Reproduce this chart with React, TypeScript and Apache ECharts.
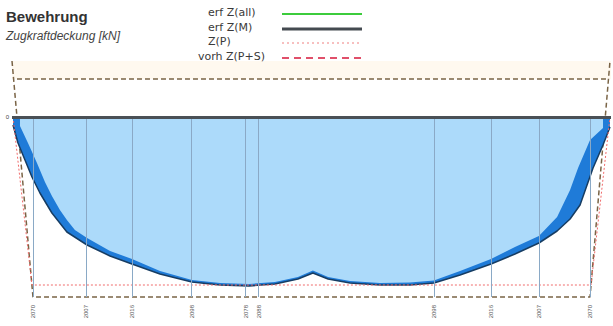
import React, { useEffect, useRef } from "react";
import * as echarts from "echarts";

// positions along the beam [m], force [kN] (tension plotted downward)
const outerCurve: [number, number][] = [
  [0.05, 80], [0.3, 260], [0.65, 430], [1.0, 600], [1.4, 760], [2.0, 960], [2.75, 1150],
  [3.76, 1280], [4.91, 1390], [6.01, 1470], [7.41, 1570], [9.01, 1650], [10.42, 1680],
  [11.87, 1690], [13.17, 1670], [14.32, 1620], [15.07, 1560], [15.83, 1620], [16.93, 1660],
  [18.43, 1680], [19.93, 1680], [21.13, 1660], [22.44, 1580], [23.99, 1470], [25.19, 1370],
  [26.39, 1260], [27.3, 1140], [27.95, 1020], [28.45, 880], [29.1, 510], [29.6, 280], [29.95, 100],
];
const innerCurve: [number, number][] = [
  [0.4, 90], [0.8, 260], [1.25, 460], [1.65, 650], [2.0, 790], [2.4, 930], [2.75, 1030],
  [3.15, 1130], [3.76, 1210], [4.91, 1340], [6.01, 1420], [7.41, 1540], [9.01, 1630],
  [10.42, 1660], [11.87, 1670], [13.17, 1650], [14.32, 1600], [15.07, 1535], [15.83, 1600],
  [16.93, 1640], [18.43, 1660], [19.93, 1655], [21.13, 1635], [22.44, 1540], [23.99, 1420],
  [25.19, 1300], [26.39, 1190], [27.3, 1000], [27.95, 730], [28.35, 510], [28.95, 230], [29.6, 110],
];
const zP: [number, number][] = [[0.05, 0], [1.0, 1680], [29.0, 1680], [29.95, 0]];
const vorhBottom: [number, number][] = [[0.0, -560], [1.05, 1800], [28.95, 1800], [29.95, -560]];
const vorhTop: [number, number][] = [[0.25, -380], [29.85, -380]];
const vorhEndLabels = ["2070", "2070"];

const xLines = [1.05, 3.7, 6.0, 9.0, 11.7, 12.35, 21.15, 24.0, 26.4, 28.95];
const xLineLabels = ["2070", "2007", "2016", "2098", "2078", "2088", "2098", "2016", "2007", "2070"];

const legendNames = ["erf Z(all)", "erf Z(M)", "Z(P)", "vorh Z(P+S)"];

const FONT = "Liberation Sans, Arial, sans-serif";

export default function App() {
  const ref = useRef<HTMLDivElement>(null);
  useEffect(() => {
    if (!ref.current) return;
    const chart = echarts.init(ref.current, undefined, { renderer: "svg" });
    const legendRows = [14, 29, 43, 58];
    const legendTextX = [208, 208, 208, 198];
    const legendStyles = [
      { stroke: "#3ccc3c", lineWidth: 2 },
      { stroke: "#444a50", lineWidth: 3 },
      { stroke: "#f08080", lineWidth: 1.2, lineDash: [2, 3] },
      { stroke: "#e0506a", lineWidth: 2, lineDash: [7, 5] },
    ];
    const graphic: any[] = [];
    legendNames.forEach((n, i) => {
      graphic.push({
        type: "text",
        left: legendTextX[i],
        top: legendRows[i] - 7,
        style: { text: n, fontSize: 11, fontFamily: "DejaVu Sans, sans-serif", fill: "#3a3a3a" },
      });
      graphic.push({
        type: "line",
        shape: { x1: 282, y1: legendRows[i], x2: 362, y2: legendRows[i] },
        style: legendStyles[i],
      });
    });

    const vLineData: any[] = xLines.map((x) => [
      { coord: [x, 0] },
      { coord: [x, 1800] },
    ]);

    chart.setOption({
      animation: false,
      backgroundColor: "#fff",
      title: {
        text: "Bewehrung",
        subtext: "Zugkraftdeckung [kN]",
        left: 6,
        top: 9,
        padding: 0,
        itemGap: 6,
        textStyle: { fontSize: 15, fontWeight: "bold", color: "#333", fontFamily: FONT },
        subtextStyle: { fontSize: 12, fontStyle: "italic", color: "#444", fontFamily: FONT },
      },
      grid: { left: 12, right: 2, top: 57, bottom: 24 },
      xAxis: {
        type: "value",
        min: 0,
        max: 30,
        axisLine: { show: false },
        axisTick: { show: false },
        splitLine: { show: false },
        axisLabel: {
          customValues: xLines,
          formatter: (v: number) => {
            const i = xLines.indexOf(v);
            return i >= 0 ? xLineLabels[i] : "";
          },
          rotate: 90,
          fontSize: 6,
          color: "#555",
          margin: 3,
          fontFamily: FONT,
        },
      },
      yAxis: {
        type: "value",
        inverse: true,
        min: -600,
        max: 1850,
        axisLine: { show: false },
        axisTick: { show: false },
        splitLine: { show: false },
        axisLabel: { customValues: [0], fontSize: 6, color: "#444", margin: 3, fontFamily: FONT },
      },
      graphic,
      series: [
        {
          name: "vorh Z(P+S)",
          type: "line",
          data: vorhBottom.map((p, i) =>
            i === 0 || i === vorhBottom.length - 1
              ? {
                  value: p,
                  label: {
                    show: true,
                    formatter: vorhEndLabels[i === 0 ? 0 : 1],
                    rotate: 90,
                    fontSize: 5,
                    color: "#666",
                    position: i === 0 ? "right" : "left",
                    distance: 2,
                  },
                }
              : p
          ),
          symbol: "none",
          lineStyle: { color: "#7a6446", width: 1.5, type: [5, 3] },
          markArea: {
            silent: true,
            itemStyle: { color: "rgba(255,238,210,0.35)" },
            data: [[{ coord: [0, -560] }, { coord: [30, -380] }]],
          },
          z: 1,
        },
        {
          name: "erf Z(M)",
          type: "line",
          data: outerCurve,
          symbol: "none",
          lineStyle: { color: "#173d63", width: 1.5 },
          areaStyle: { color: "#1f7bd8", opacity: 1 },
          z: 2,
        },
        {
          name: "erf Z(all)",
          type: "line",
          data: innerCurve,
          symbol: "none",
          lineStyle: { color: "#3ccc3c", width: 0, opacity: 0 },
          areaStyle: { color: "#acdafa", opacity: 1 },
          markLine: {
            silent: true,
            symbol: ["none", "none"],
            label: { show: false },
            lineStyle: { color: "#8aa9c6", width: 1, type: "solid" },
            data: [
              ...vLineData,
              [
                { coord: [0, 0], lineStyle: { color: "#4a5056", width: 3, type: "solid" } },
                { coord: [30, 0] },
              ],
            ],
          },
          z: 3,
        },
        {
          name: "Z(P)",
          type: "line",
          data: zP,
          symbol: "none",
          lineStyle: { color: "#f06a6a", width: 1, type: [2, 2] },
          z: 4,
        },
        {
          name: "vorh Z(P+S) oben",
          type: "line",
          data: vorhTop,
          symbol: "none",
          lineStyle: { color: "#7a6446", width: 1.5, type: [5, 3] },
          z: 4,
        },
      ],
    });
    return () => chart.dispose();
  }, []);
  return (
    <div
      ref={ref}
      style={{ position: "fixed", left: 0, top: 0, width: 613, height: 326 }}
    />
  );
}
